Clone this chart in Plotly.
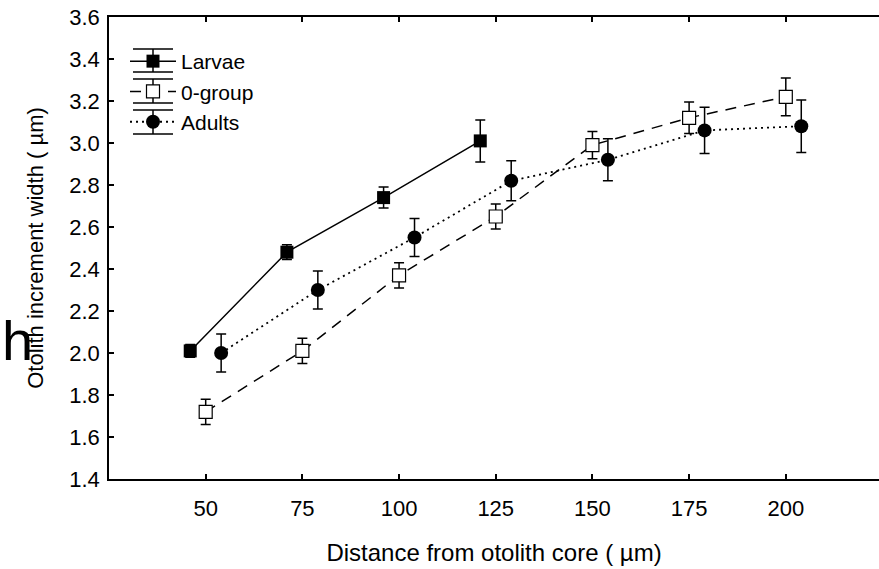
import plotly.graph_objects as go

# Mean otolith increment width by distance from the core, with error bars
larvae_x = [46, 71, 96, 121]
larvae_y = [2.01, 2.48, 2.74, 3.01]
larvae_err = [0.03, 0.035, 0.05, 0.10]

ogroup_x = [50, 75, 100, 125, 150, 175, 200]
ogroup_y = [1.72, 2.01, 2.37, 2.65, 2.99, 3.12, 3.22]
ogroup_err = [0.06, 0.06, 0.06, 0.06, 0.065, 0.075, 0.09]

adults_x = [54, 79, 104, 129, 154, 179, 204]
adults_y = [2.00, 2.30, 2.55, 2.82, 2.92, 3.06, 3.08]
adults_err = [0.09, 0.09, 0.09, 0.095, 0.10, 0.11, 0.125]

x_ticks = [50, 75, 100, 125, 150, 175, 200]
y_ticks = [1.4, 1.6, 1.8, 2.0, 2.2, 2.4, 2.6, 2.8, 3.0, 3.2, 3.4, 3.6]

FONT = "Liberation Sans, Arial, sans-serif"
W, H = 879, 569
ML, MR, MT, MB = 109, 0, 17, 90


def err(vals):
    return dict(type="data", array=vals, visible=True, color="black",
                thickness=1.5, width=5)


fig = go.Figure()
fig.add_trace(go.Scatter(
    x=larvae_x, y=larvae_y, name="Larvae", mode="lines+markers",
    line=dict(color="black", width=1.5),
    marker=dict(symbol="square", size=13, color="black"),
    error_y=err(larvae_err)))
fig.add_trace(go.Scatter(
    x=ogroup_x, y=ogroup_y, name="0-group", mode="lines+markers",
    line=dict(color="black", width=1.5, dash="11px,8px"),
    marker=dict(symbol="square", size=13, color="white",
                line=dict(color="black", width=1.2)),
    error_y=err(ogroup_err)))
fig.add_trace(go.Scatter(
    x=adults_x, y=adults_y, name="Adults", mode="lines+markers",
    line=dict(color="black", width=1.8, dash="2px,4px"),
    marker=dict(symbol="circle", size=14, color="black"),
    error_y=err(adults_err)))

# whisker lines framing each legend entry
pw = W - ML - MR
ph = H - MT - MB


def px_x(p):
    return (p - ML) / pw


def px_y(p):
    return 1 - (p - MT) / ph


shapes = []
for top, bot in [(49, 72), (79, 103), (110, 134)]:
    for yy in (top, bot):
        shapes.append(dict(type="line", xref="paper", yref="paper",
                           x0=px_x(133), x1=px_x(173), y0=px_y(yy), y1=px_y(yy),
                           line=dict(color="black", width=1.5)))
    shapes.append(dict(type="line", xref="paper", yref="paper",
                       x0=px_x(153), x1=px_x(153), y0=px_y(top), y1=px_y(bot),
                       line=dict(color="black", width=1.5)))

fig.update_layout(
    width=W, height=H,
    margin=dict(l=ML, r=MR, t=MT, b=MB),
    paper_bgcolor="white", plot_bgcolor="white",
    font=dict(family=FONT, size=20, color="black"),
    showlegend=True,
    legend=dict(x=px_x(125), y=px_y(41), xanchor="left", yanchor="top",
                bgcolor="rgba(0,0,0,0)", font=dict(size=21),
                itemwidth=46, tracegroupgap=0),
    shapes=shapes,
    annotations=[dict(text="h", xref="paper", yref="paper",
                      x=px_x(0), y=px_y(374), xanchor="left", yanchor="bottom",
                      showarrow=False, font=dict(size=56, color="black"))],
)
fig.update_xaxes(
    range=[25, 224.1], tickvals=x_ticks, ticktext=[str(v) for v in x_ticks],
    ticks="inside", ticklen=5, tickwidth=1.5, tickcolor="black",
    showline=True, linecolor="black", linewidth=1.5, mirror="ticks",
    showgrid=False, zeroline=False, tickfont=dict(size=22),
    ticklabelstandoff=9,
    title=dict(text="Distance from otolith core ( µm)", font=dict(size=24), standoff=24),
)
fig.update_yaxes(
    range=[1.4, 3.6], tickvals=y_ticks, ticktext=[f"{v:.1f}" for v in y_ticks],
    ticks="inside", ticklen=5, tickwidth=1.5, tickcolor="black",
    showline=True, linecolor="black", linewidth=1.5,
    showgrid=False, zeroline=False, tickfont=dict(size=22),
    ticklabelstandoff=3,
    title=dict(text="Otolith increment width ( µm)", font=dict(size=22), standoff=20),
)

fig.write_html("out.html")
